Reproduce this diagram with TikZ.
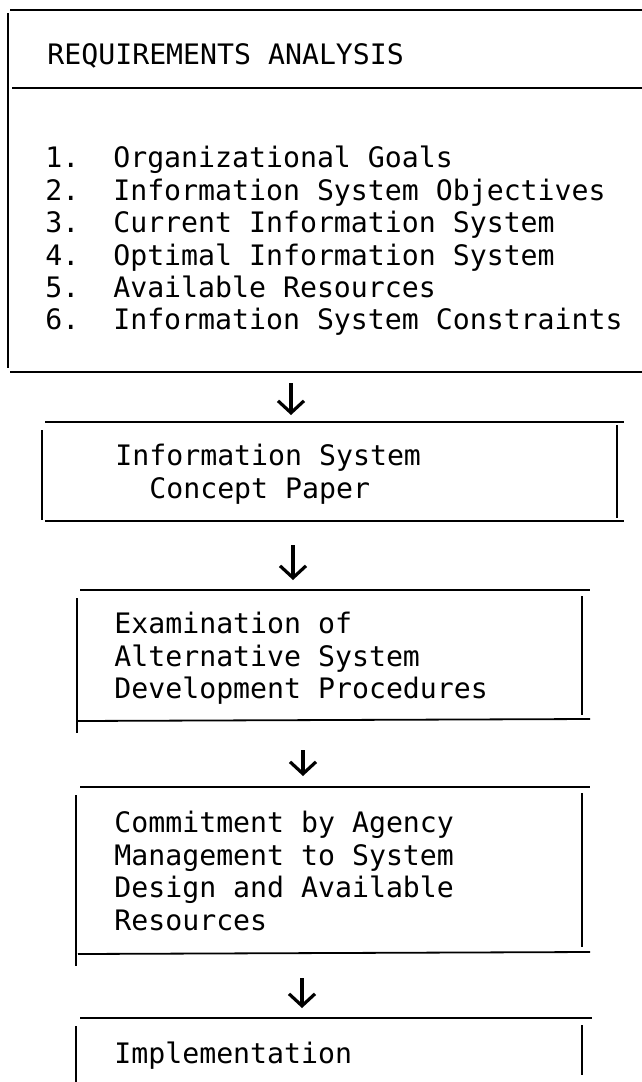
\documentclass[tikz,border=0pt]{standalone}
\usepackage{fontspec}
\setmainfont{DejaVu Sans Mono}
\usetikzlibrary{arrows.meta}

\tikzset{
  rule/.style={line width=0.9pt},
  flow/.style={line width=1.6pt,-{Straight Barb[length=6pt,width=13pt]}},
  label/.style={anchor=north west,inner sep=0pt,align=left,
    font=\fontsize{14.1}{16.2}\selectfont\frenchspacing},
}

\begin{document}
\begin{tikzpicture}[x=0.5pt,y=-0.5pt]
\useasboundingbox (0,0) rectangle (642,1082);

% requirements analysis
\draw[rule] (10,10) -- (642,10);
\draw[rule] (8,13) -- (8,368);
\draw[rule] (12,88) -- (642,88);
\draw[rule] (10,372) -- (642,372);
\node[label] (reqtitle) at (47,43) {REQUIREMENTS ANALYSIS};
\node[label] (goals) at (45,146) {1.~~Organizational Goals\\
2.~~Information System Objectives\\
3.~~Current Information System\\
4.~~Optimal Information System\\
5.~~Available Resources\\
6.~~Information System Constraints};

% concept paper
\draw[rule] (45,422) -- (624,422);
\draw[rule] (42,430) -- (42,520);
\draw[rule] (617,425) -- (617,518);
\draw[rule] (45,521) -- (624,521);
\node[label] (concept) at (115,444) {Information System\\
~~Concept Paper};

% examination
\draw[rule] (80,590) -- (590,590);
\draw[rule] (77,598) -- (77,733);
\draw[rule] (582,596) -- (582,715);
\draw[rule] (77,721) -- (590,719);
\node[label] (exam) at (114,612) {Examination of\\
Alternative System\\
Development Procedures};

% commitment
\draw[rule] (80,787) -- (590,787);
\draw[rule] (76,795) -- (76,966);
\draw[rule] (582,793) -- (582,947);
\draw[rule] (78,954) -- (590,952);
\node[label] (commit) at (114,811) {Commitment by Agency\\
Management to System\\
Design and Available\\
Resources};

% implementation
\draw[rule] (80,1018) -- (592,1018);
\draw[rule] (76,1026) -- (76,1082);
\draw[rule] (582,1025) -- (582,1075);
\node[label] (impl) at (114,1042) {Implementation};

% arrows
\coordinate (a1) at (291,383);
\coordinate (b1) at (291,415);
\coordinate (a2) at (293,545);
\coordinate (b2) at (293,580);
\coordinate (a3) at (303,750);
\coordinate (b3) at (303,776);
\coordinate (a4) at (302,978);
\coordinate (b4) at (302,1008);
\draw[flow] (a1) -- (b1);
\draw[flow] (a2) -- (b2);
\draw[flow] (a3) -- (b3);
\draw[flow] (a4) -- (b4);
\end{tikzpicture}
\end{document}
